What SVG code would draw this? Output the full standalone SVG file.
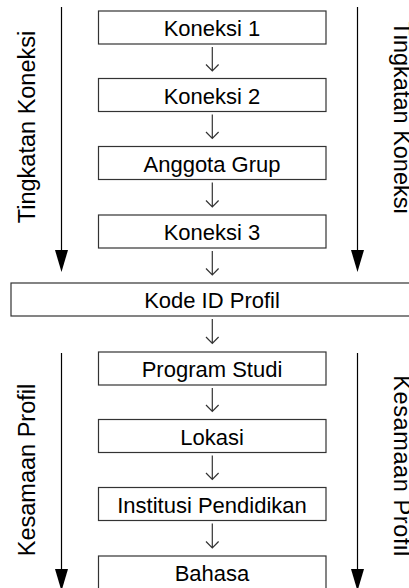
<svg xmlns="http://www.w3.org/2000/svg" width="409" height="588" viewBox="0 0 409 588">
<style>
.box{fill:#fff;stroke:#333;stroke-width:1.2}
.lbl{font-family:"Liberation Sans",Arial,sans-serif;font-size:22px;fill:#000;text-anchor:middle}
.side{font-family:"Liberation Sans",Arial,sans-serif;font-size:23.5px;fill:#000;text-anchor:middle}
.small{stroke:#333;stroke-width:1.2;fill:none}
.big{stroke:#000;stroke-width:1.2;fill:none}
.head{fill:#000}
</style>
<rect width="409" height="588" fill="#fff"/>
<g id="nodes">
<g id="k1"><rect class="box" x="98.5" y="11" width="227.5" height="33"/><text class="lbl" x="212" y="36">Koneksi 1</text></g>
<g id="k2"><rect class="box" x="98.5" y="78.5" width="227.5" height="33"/><text class="lbl" x="212" y="103.5">Koneksi 2</text></g>
<g id="ag"><rect class="box" x="98.5" y="146.5" width="227.5" height="33"/><text class="lbl" x="212" y="171.5">Anggota Grup</text></g>
<g id="k3"><rect class="box" x="98.5" y="215" width="227.5" height="33"/><text class="lbl" x="212" y="240">Koneksi 3</text></g>
<g id="kode"><rect class="box" x="11" y="283" width="410" height="33"/><text class="lbl" x="212" y="308">Kode ID Profil</text></g>
<g id="ps"><rect class="box" x="98.5" y="352" width="227.5" height="33"/><text class="lbl" x="212" y="377">Program Studi</text></g>
<g id="lok"><rect class="box" x="98.5" y="419.5" width="227.5" height="33"/><text class="lbl" x="212" y="444.5">Lokasi</text></g>
<g id="inst"><rect class="box" x="98.5" y="487.5" width="227.5" height="33"/><text class="lbl" x="212" y="512.5">Institusi Pendidikan</text></g>
<g id="bhs"><rect class="box" x="98.5" y="556" width="227.5" height="34"/><text class="lbl" x="212" y="581">Bahasa</text></g>
</g>
<g id="side-labels">
<text class="side" transform="translate(35,127) rotate(-90)">Tingkatan Koneksi</text>
<text class="side" transform="translate(35,470) rotate(-90)">Kesamaan Profil</text>
<text class="side" transform="translate(394,117.5) rotate(90)">Tingkatan Koneksi</text>
<text class="side" transform="translate(394,466) rotate(90)" letter-spacing="0.6">Kesamaan Profil</text>
</g>
<g id="connectors">
<path class="small" d="M212.3 47V71M206 64.5L212.3 71L218.6 64.5"/>
<path class="small" d="M212.3 114.5V138.5M206 132L212.3 138.5L218.6 132"/>
<path class="small" d="M212.3 182.5V207M206 200.5L212.3 207L218.6 200.5"/>
<path class="small" d="M212.3 251V275M206 268.5L212.3 275L218.6 268.5"/>
<path class="small" d="M212.3 319V343.5M206 337L212.3 343.5L218.6 337"/>
<path class="small" d="M212.3 388V411.5M206 405L212.3 411.5L218.6 405"/>
<path class="small" d="M212.3 455.5V479.5M206 473L212.3 479.5L218.6 473"/>
<path class="small" d="M212.3 523.5V548M206 541.5L212.3 548L218.6 541.5"/>
<path class="big" d="M61.5 7V251"/>
<polygon class="head" points="55,250 68,250 61.5,272"/>
<path class="big" d="M357.5 7V251"/>
<polygon class="head" points="351,250 364,250 357.5,272"/>
<path class="big" d="M61.5 353V570"/>
<polygon class="head" points="55,569 68,569 61.5,591"/>
<path class="big" d="M357.5 353V570"/>
<polygon class="head" points="351,569 364,569 357.5,591"/>
</g>
</svg>
